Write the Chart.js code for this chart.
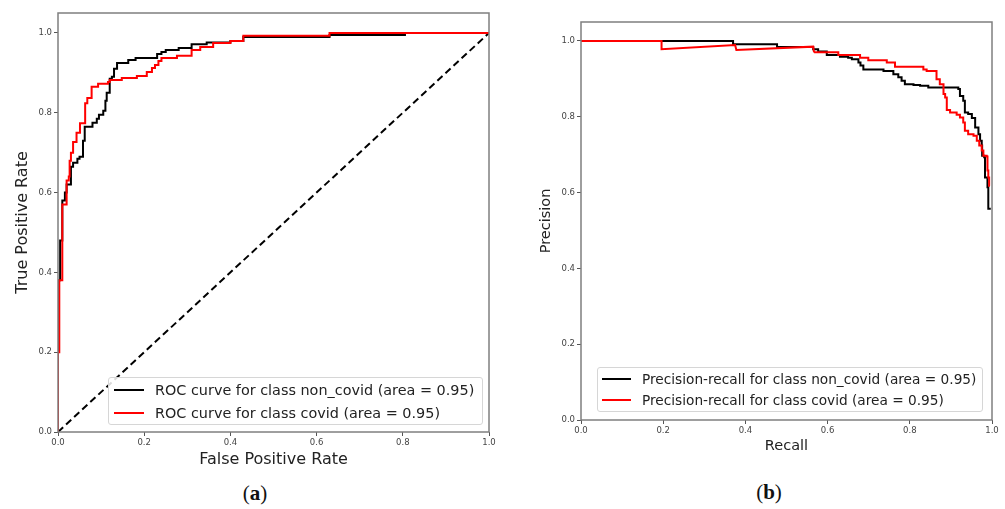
<!DOCTYPE html>
<html>
<head>
<meta charset="utf-8">
<script src="https://cdn.jsdelivr.net/npm/chart.js@4.4.1/dist/chart.umd.min.js"></script>
<style>
  html, body { margin:0; padding:0; background:#fff; }
  body { width:1005px; height:509px; position:relative; overflow:hidden; font-family:"DejaVu Sans", sans-serif; }
  canvas { position:absolute; top:0; }
  #c1 { left:0; }
  #c2 { left:505px; }
  .legend { position:absolute; border:1px solid #d6d6d6; border-radius:3px; background:rgba(255,255,255,0.85); box-sizing:border-box; color:#222; }
  .sw { position:absolute; height:0; border-top:2px solid; }
  .lt { position:absolute; white-space:nowrap; transform:translateY(-50%); }
  .cap { position:absolute; font-family:"Liberation Serif", "DejaVu Serif", serif; font-size:21px; color:#111; transform:translate(-50%,-50%); white-space:nowrap; }
  .cap b { font-weight:bold; }
</style>
</head>
<body>
<canvas id="c1" width="500" height="475"></canvas>
<canvas id="c2" width="500" height="475"></canvas>

<div class="legend" id="lg1" style="left:108px;top:377px;width:375px;height:48px;font-size:14.4px;">
  <div class="sw" style="left:5px;top:11px;width:30px;border-color:#000;"></div>
  <div class="lt" style="left:46px;top:12px;" id="lg1a"></div>
  <div class="sw" style="left:5px;top:34px;width:30px;border-color:#f00;"></div>
  <div class="lt" style="left:46px;top:35px;" id="lg1b"></div>
</div>
<div class="legend" id="lg2" style="left:597px;top:367px;width:386px;height:45px;font-size:13.7px;">
  <div class="sw" style="left:4px;top:10px;width:29px;border-color:#000;"></div>
  <div class="lt" style="left:44px;top:11px;" id="lg2a"></div>
  <div class="sw" style="left:4px;top:31px;width:29px;border-color:#f00;"></div>
  <div class="lt" style="left:44px;top:32px;" id="lg2b"></div>
</div>

<div class="cap" style="left:255px;top:493px;">(<b>a</b>)</div>
<div class="cap" style="left:769px;top:492px;">(<b>b</b>)</div>

<script>
// ---------- DATA ----------
const rocTicks = [0, 0.2, 0.4, 0.6, 0.8, 1.0];
const prTicks  = [0, 0.2, 0.4, 0.6, 0.8, 1.0];

const rocLabels = ["ROC curve for class non_covid (area = 0.95)", "ROC curve for class covid (area = 0.95)"];
const prLabels  = ["Precision-recall for class non_covid (area = 0.95)", "Precision-recall for class covid (area = 0.95)"];

// ROC non_covid (black): FPR at each rise, TPR after the rise
const rocNonCovidFpr = [0, 0, 0.005, 0.01, 0.016, 0.02, 0.03, 0.035, 0.045, 0.05, 0.058, 0.062, 0.08, 0.09, 0.095, 0.105, 0.11, 0.113, 0.12, 0.125, 0.13, 0.137, 0.163, 0.18, 0.23, 0.24, 0.25, 0.28, 0.31, 0.345, 0.40, 0.43, 0.63, 0.805, 1.0];
const rocNonCovidTpr = [0, 0.38, 0.48, 0.58, 0.60, 0.62, 0.665, 0.675, 0.685, 0.69, 0.73, 0.765, 0.775, 0.785, 0.795, 0.805, 0.83, 0.85, 0.885, 0.89, 0.91, 0.925, 0.932, 0.937, 0.947, 0.952, 0.957, 0.962, 0.972, 0.976, 0.98, 0.99, 0.995, 1.0, 1.0];

// ROC covid (red)
const rocCovidFpr = [0, 0, 0.003, 0.01, 0.02, 0.025, 0.027, 0.03, 0.035, 0.043, 0.051, 0.063, 0.068, 0.078, 0.093, 0.116, 0.12, 0.148, 0.183, 0.206, 0.218, 0.225, 0.233, 0.24, 0.276, 0.31, 0.33, 0.36, 0.40, 0.43, 0.63, 1.0];
const rocCovidTpr = [0, 0.20, 0.38, 0.57, 0.63, 0.64, 0.68, 0.70, 0.727, 0.75, 0.774, 0.824, 0.837, 0.865, 0.873, 0.877, 0.882, 0.887, 0.892, 0.902, 0.912, 0.92, 0.93, 0.937, 0.943, 0.957, 0.965, 0.975, 0.98, 0.993, 1.0, 1.0];

// Chance line
const chanceX = [0, 1];
const chanceY = [0, 1];

// PR non_covid (black): recall at each drop, precision after the drop
const prNonCovidRecall    = [0, 0.37, 0.477, 0.565, 0.577, 0.598, 0.63, 0.65, 0.659, 0.675, 0.68, 0.687, 0.736, 0.76, 0.772, 0.78, 0.788, 0.809, 0.825, 0.845, 0.918, 0.922, 0.93, 0.934, 0.942, 0.951, 0.959, 0.967, 0.971, 0.975, 0.976, 0.981, 0.983, 0.989, 0.991, 0.997];
const prNonCovidPrecision = [1.0, 0.991, 0.984, 0.978, 0.972, 0.963, 0.958, 0.956, 0.952, 0.943, 0.935, 0.925, 0.921, 0.912, 0.904, 0.895, 0.886, 0.884, 0.882, 0.877, 0.873, 0.855, 0.842, 0.811, 0.807, 0.797, 0.772, 0.754, 0.737, 0.724, 0.697, 0.693, 0.64, 0.614, 0.557, 0.557];

// PR covid (red), high-precision part (sawtooth)
const prCovidTopRecall    = [0, 0.196, 0.196, 0.375, 0.378, 0.565, 0.567];
const prCovidTopPrecision = [1.0, 1.0, 0.978, 0.989, 0.976, 0.985, 0.97];
// PR covid (red), remaining part: recall at each drop, precision after the drop
const prCovidRecall    = [0.567, 0.626, 0.679, 0.699, 0.744, 0.764, 0.833, 0.841, 0.865, 0.873, 0.882, 0.886, 0.89, 0.898, 0.914, 0.922, 0.93, 0.934, 0.942, 0.955, 0.963, 0.969, 0.975, 0.979, 0.987, 0.989, 0.991, 0.993, 0.995];
const prCovidPrecision = [0.97, 0.963, 0.956, 0.949, 0.943, 0.932, 0.925, 0.921, 0.899, 0.886, 0.86, 0.851, 0.818, 0.811, 0.805, 0.798, 0.785, 0.763, 0.754, 0.75, 0.737, 0.724, 0.711, 0.697, 0.695, 0.658, 0.64, 0.618, 0.618];

// ---------- RENDER ----------
document.getElementById('lg1a').textContent = rocLabels[0];
document.getElementById('lg1b').textContent = rocLabels[1];
document.getElementById('lg2a').textContent = prLabels[0];
document.getElementById('lg2b').textContent = prLabels[1];

const pts = (xs, ys) => xs.map((x, i) => ({x: x, y: ys[i]}));

const framePlugin = {
  id: 'frame',
  afterDatasetsDraw(chart) {
    const a = chart.chartArea, ctx = chart.ctx;
    ctx.save();
    ctx.strokeStyle = '#7f7f7f';
    ctx.lineWidth = 1.5;
    ctx.strokeRect(a.left, a.top, a.right - a.left, a.bottom - a.top);
    ctx.restore();
  }
};

function axis(tickVals, opts) {
  return {
    type: 'linear',
    min: 0,
    max: opts.max,
    afterBuildTicks: s => { s.ticks = tickVals.map(v => ({value: v})); },
    afterFit: s => { if (opts.w !== undefined) s.width = opts.w; if (opts.h !== undefined) s.height = opts.h; },
    border: {display: false},
    grid: {display: true, drawOnChartArea: false, drawTicks: true, tickLength: 4, tickColor: '#555', tickWidth: 1},
    ticks: {
      font: {family: 'DejaVu Sans', size: 8.5},
      color: '#444',
      padding: 2,
      maxRotation: 0,
      autoSkip: false,
      callback: v => Number(v).toFixed(1)
    },
    title: {
      display: true,
      text: opts.title,
      color: '#222',
      font: {family: 'DejaVu Sans', size: opts.tsize},
      padding: opts.tpad
    }
  };
}

const base = {
  responsive: false,
  maintainAspectRatio: false,
  animation: false,
  devicePixelRatio: 1,
  plugins: {legend: {display: false}, tooltip: {enabled: false}},
  elements: {point: {radius: 0}, line: {tension: 0}}
};

new Chart(document.getElementById('c1'), {
  type: 'line',
  data: {
    datasets: [
      {data: pts(rocCovidFpr, rocCovidTpr), borderColor: '#ff0000', borderWidth: 2, stepped: 'before', order: 0},
      {data: pts(rocNonCovidFpr, rocNonCovidTpr), borderColor: '#000000', borderWidth: 2, stepped: 'before', order: 1},
      {data: pts(chanceX, chanceY), borderColor: '#000000', borderWidth: 2, borderDash: [7, 4], order: 2}
    ]
  },
  options: Object.assign({}, base, {
    layout: {padding: {top: 13, right: 11, left: 0, bottom: 0}},
    scales: {
      x: axis(rocTicks, {max: 1, h: 43, title: 'False Positive Rate', tsize: 16, tpad: {top: 0, bottom: 5.5}}),
      y: axis(rocTicks, {max: 1.05, w: 58, title: 'True Positive Rate', tsize: 16, tpad: {top: 13, bottom: 0}})
    }
  }),
  plugins: [framePlugin]
});

new Chart(document.getElementById('c2'), {
  type: 'line',
  data: {
    datasets: [
      {data: pts(prCovidTopRecall, prCovidTopPrecision), borderColor: '#ff0000', borderWidth: 2, order: 0},
      {data: pts(prCovidRecall, prCovidPrecision), borderColor: '#ff0000', borderWidth: 2, stepped: 'before', order: 0},
      {data: pts(prNonCovidRecall, prNonCovidPrecision), borderColor: '#000000', borderWidth: 2, stepped: 'before', order: 1}
    ]
  },
  options: Object.assign({}, base, {
    layout: {padding: {top: 22, right: 13, left: 0, bottom: 0}},
    scales: {
      x: axis(prTicks, {max: 1, h: 55, title: 'Recall', tsize: 14.5, tpad: {top: 0, bottom: 20}}),
      y: axis(prTicks, {max: 1.05, w: 76, title: 'Precision', tsize: 14.5, tpad: {top: 33, bottom: 0}})
    }
  }),
  plugins: [framePlugin]
});
</script>
</body>
</html>
